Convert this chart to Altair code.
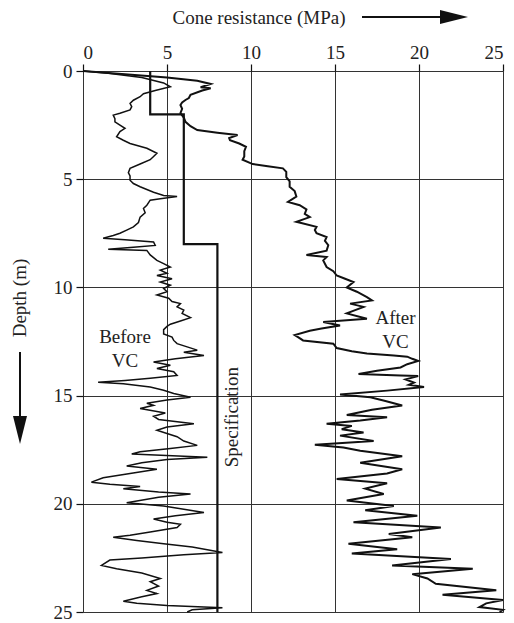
import altair as alt
import pandas as pd

# ---------------- data ----------------
before_depth = [0.0, 0.1, 0.3, 0.55, 0.73, 0.9, 1.05, 1.19, 1.35, 1.5, 1.65, 1.8, 1.95, 2.04, 2.2, 2.35, 2.5, 2.65,
                2.8, 3.04, 3.2, 3.35, 3.57, 3.8, 3.95, 4.1, 4.3, 4.5, 4.7, 4.85, 5.05, 5.2, 5.35, 5.6, 5.75, 5.8,
                5.9, 5.97, 6.2, 6.35, 6.55, 6.75, 7.0, 7.2, 7.35, 7.5, 7.6, 7.73, 7.8, 7.9, 8.06, 8.15, 8.24, 8.29,
                8.5, 8.75, 8.9, 9.06, 9.2, 9.35, 9.45, 9.6, 9.75, 9.9, 10.05, 10.2, 10.35, 10.5, 10.65, 10.75, 10.9,
                11.05, 11.2, 11.4, 11.55, 11.7, 11.8, 11.95, 12.15, 12.3, 12.45, 12.6, 12.75, 12.9, 13.0, 13.15,
                13.3, 13.45, 13.6, 13.75, 13.9, 14.07, 14.2, 14.3, 14.38, 14.45, 14.6, 14.75, 14.9, 15.08, 15.2,
                15.35, 15.45, 15.6, 15.8, 15.95, 16.1, 16.3, 16.45, 16.6, 16.75, 16.9, 17.1, 17.3, 17.45, 17.6,
                17.7, 17.85, 17.95, 18.1, 18.25, 18.4, 18.6, 18.8, 19.0, 19.1, 19.2, 19.3, 19.45, 19.55, 19.7,
                19.95, 20.1, 20.25, 20.4, 20.55, 20.7, 20.85, 20.95, 21.1, 21.3, 21.45, 21.55, 21.7, 21.85, 22.0,
                22.25, 22.35, 22.5, 22.6, 22.85, 23.0, 23.2, 23.45, 23.6, 23.8, 24.0, 24.15, 24.3, 24.5, 24.6,
                24.7, 24.8, 24.9, 25.0]
before_mpa = [0.0, 1.5, 3.5, 4.8, 5.2, 4.3, 3.6, 3.4, 3.0, 2.8, 2.9, 2.8, 2.2, 1.8, 1.9, 1.9, 2.2, 2.5,
              2.2, 2.0, 2.4, 2.8, 3.8, 4.4, 4.2, 4.0, 3.4, 2.8, 2.7, 2.8, 2.8, 3.0, 3.4, 4.2, 4.8, 5.6,
              4.6, 4.0, 3.8, 3.6, 3.7, 3.4, 3.3, 3.0, 2.6, 2.2, 1.8, 1.2, 2.5, 4.2, 4.3, 3.0, 1.5, 3.8,
              4.0, 4.4, 4.8, 5.2, 4.6, 5.0, 4.4, 5.3, 4.6, 5.2, 4.8, 5.0, 4.4, 5.1, 5.3, 5.8, 5.6,
              6.0, 5.9, 6.4, 5.8, 5.2, 5.0, 4.8, 4.8, 5.3, 5.4, 5.6, 6.2, 6.8, 6.0, 7.2,
              5.5, 4.2, 5.2, 4.4, 5.4, 5.6, 4.0, 2.5, 0.9, 2.4, 4.0, 4.8, 5.4, 6.4, 5.0,
              3.8, 4.2, 3.4, 4.9, 4.2, 4.5, 6.6, 5.0, 4.4, 5.0, 5.6, 6.0, 6.8, 5.2, 3.4,
              2.9, 7.4, 5.0, 3.5, 2.6, 4.4, 2.8, 1.2, 0.5, 1.6, 3.4, 2.4, 4.5, 6.4, 4.5,
              2.6, 4.8, 6.0, 7.2, 5.5, 4.2, 5.0, 5.8, 5.6, 4.0, 2.8, 1.8, 3.2, 4.8, 6.5,
              8.3, 6.0, 3.5, 1.6, 1.1, 2.0, 3.5, 4.6, 4.0, 4.5, 3.8, 4.4, 3.5, 2.4, 3.2,
              5.0, 8.3, 6.5, 6.2]

after_depth = [0.0, 0.15, 0.3, 0.45, 0.6, 0.75, 0.8, 0.9, 1.1, 1.25, 1.34, 1.45, 1.57, 1.75, 1.95, 2.15, 2.35,
               2.55, 2.73, 2.85, 2.96, 3.1, 3.2, 3.35, 3.5, 3.7, 3.95, 4.1, 4.3, 4.4, 4.5, 4.66, 4.9, 5.1, 5.35,
               5.55, 5.8, 6.05, 6.2, 6.4, 6.6, 6.75, 6.97, 7.2, 7.35, 7.5, 7.67, 7.85, 8.05, 8.3, 8.5, 8.6, 8.75,
               9.06, 9.25, 9.45, 9.6, 9.75, 10.0, 10.2, 10.45, 10.6, 10.75, 10.9, 11.05, 11.2, 11.45, 11.6, 11.76,
               11.9, 12.0, 12.2, 12.3, 12.45, 12.6, 12.8, 12.95, 13.05, 13.15, 13.2, 13.3, 13.4, 13.55, 13.7,
               13.85, 14.0, 14.07, 14.1, 14.25, 14.4, 14.5, 14.6, 14.77, 14.95, 15.08, 15.25, 15.46, 15.65, 15.9,
               16.0, 16.15, 16.3, 16.4, 16.55, 16.7, 16.85, 17.1, 17.27, 17.4, 17.55, 17.8, 18.1, 18.4, 18.6,
               18.85, 19.05, 19.3, 19.55, 19.85, 20.1, 20.3, 20.55, 20.85, 21.1, 21.4, 21.55, 21.85, 22.1, 22.3,
               22.55, 22.85, 23.0, 23.25, 23.45, 23.7, 24.0, 24.2, 24.45, 24.6, 24.77, 24.9, 25.0]
after_mpa = [0.0, 2.5, 5.0, 6.8, 7.6, 7.0, 7.6, 7.1, 6.4, 6.3, 6.1, 5.9, 5.8, 5.9, 5.8, 6.0, 6.1,
             6.4, 6.8, 8.0, 9.2, 8.7, 8.75, 9.3, 9.7, 9.6, 9.6, 9.5, 10.1, 11.0, 11.9, 12.1, 12.1, 12.3, 12.3,
             12.6, 12.7, 12.2, 12.9, 13.3, 13.2, 13.5, 12.7, 13.9, 13.8, 13.9, 14.5, 14.4, 14.6, 14.5, 13.3, 14.5, 14.3,
             14.5, 14.9, 15.1, 15.6, 16.1, 15.7, 16.3, 16.9, 17.2, 15.9, 16.7, 16.2, 15.7, 16.9, 14.3, 15.3,
             14.2, 13.5, 12.6, 12.8, 13.1, 14.9, 15.1, 16.0, 16.9, 18.5, 19.3, 19.6, 19.95, 19.3, 18.9,
             17.5, 16.4, 18.9, 19.95, 19.2, 19.7, 19.4, 20.3, 18.1, 15.3, 17.1, 18.0, 19.0, 17.2, 15.7,
             18.1, 16.5, 14.5, 16.0, 15.4, 16.7, 15.3, 17.3, 13.8, 15.5, 16.5, 19.0, 16.5, 19.0, 18.1,
             15.1, 18.1, 16.8, 17.9, 15.7, 18.5, 16.8, 19.9, 16.1, 21.3, 18.2, 19.6, 15.8, 18.7, 16.0,
             21.9, 18.4, 23.2, 19.6, 20.5, 21.0, 24.6, 21.4, 25.0, 24.0, 23.6, 25.0, 24.8]

spec_depth = [0, 2, 2, 8, 8, 25]
spec_mpa = [4, 4, 6, 6, 8, 8]

x_ticks = [0, 5, 10, 15, 20, 25]
y_ticks = [0, 5, 10, 15, 20, 25]

label_text = ["Before", "VC", "After", "VC"]
label_mpa = [2.5, 2.5, 18.6, 18.6]
label_depth = [12.3, 13.4, 11.4, 12.5]

FONT = "Liberation Serif"

df_before = pd.DataFrame({"depth": before_depth, "mpa": before_mpa, "i": range(len(before_depth))})
df_after = pd.DataFrame({"depth": after_depth, "mpa": after_mpa, "i": range(len(after_depth))})
df_spec = pd.DataFrame({"depth": spec_depth, "mpa": spec_mpa, "i": range(len(spec_depth))})
df_lab = pd.DataFrame({"t": label_text, "mpa": label_mpa, "depth": label_depth})
df_spec_lab = pd.DataFrame({"t": ["Specification"], "mpa": [8.85], "depth": [16.0]})

xs = alt.Scale(domain=[0, 25], nice=False, zero=False)
ys = alt.Scale(domain=[0, 25], nice=False, zero=False, reverse=True)

x_enc = alt.X("mpa:Q", scale=xs, axis=alt.Axis(
    orient="top", values=x_ticks, title=None, grid=True, gridColor="#333", gridWidth=1,
    domain=False, tickColor="#111", tickSize=7, tickWidth=1.2, labelFont=FONT, labelFontSize=19,
    labelColor="#222", labelPadding=2))
y_enc = alt.Y("depth:Q", scale=ys, axis=alt.Axis(
    orient="left", values=y_ticks, title=None, grid=True, gridColor="#333", gridWidth=1,
    domain=False, tickColor="#111", tickSize=7, tickWidth=1.2, labelFont=FONT, labelFontSize=19,
    labelColor="#222", labelPadding=4))

before = alt.Chart(df_before).mark_line(color="#111", strokeWidth=1.5).encode(
    x=x_enc, y=y_enc, order="i:Q")
after = alt.Chart(df_after).mark_line(color="#111", strokeWidth=2).encode(
    x="mpa:Q", y="depth:Q", order="i:Q")
spec = alt.Chart(df_spec).mark_line(color="#111", strokeWidth=2.2).encode(
    x="mpa:Q", y="depth:Q", order="i:Q")

labels = alt.Chart(df_lab).mark_text(font=FONT, fontSize=19, color="#222").encode(
    x="mpa:Q", y="depth:Q", text="t:N")
spec_label = alt.Chart(df_spec_lab).mark_text(font=FONT, fontSize=19, color="#222", angle=270).encode(
    x="mpa:Q", y="depth:Q", text="t:N")

# axis titles with arrows (decorations positioned in pixels)
df_xt = pd.DataFrame({"t": ["Cone resistance (MPa)"]})
df_yt = pd.DataFrame({"t": ["Depth (m)"]})
x_title = alt.Chart(df_xt).mark_text(font=FONT, fontSize=19, color="#222").encode(
    x=alt.value(176), y=alt.value(-53), text="t:N")
x_arrow = alt.Chart(df_xt).mark_rule(color="#111", strokeWidth=2).encode(
    x=alt.value(279), x2=alt.value(360), y=alt.value(-54))
x_head = alt.Chart(df_xt).mark_point(shape="M-1,-0.5L1,0L-1,0.5Z", filled=True, color="#111",
                                     size=784, opacity=1).encode(x=alt.value(371), y=alt.value(-54))
y_title = alt.Chart(df_yt).mark_text(font=FONT, fontSize=19, color="#222", angle=270).encode(
    x=alt.value(-63), y=alt.value(227), text="t:N")
y_arrow = alt.Chart(df_yt).mark_rule(color="#111", strokeWidth=2).encode(
    x=alt.value(-63), y=alt.value(281), y2=alt.value(350))
y_head = alt.Chart(df_yt).mark_point(shape="M-0.5,-1L0,1L0.5,-1Z", filled=True, color="#111",
                                     size=784, opacity=1).encode(x=alt.value(-63), y=alt.value(359))

chart = alt.layer(before, after, spec, labels, spec_label,
                  x_title, x_arrow, x_head, y_title, y_arrow, y_head).properties(
    width=420, height=541,
    autosize=alt.AutoSizeParams(type="none"),
    padding={"left": 75, "top": 63, "right": 3, "bottom": 14},
).configure_view(stroke="#111", strokeWidth=1.5).configure(background="white")

chart.save("out.html", embed_options={"renderer": "svg", "actions": False})
